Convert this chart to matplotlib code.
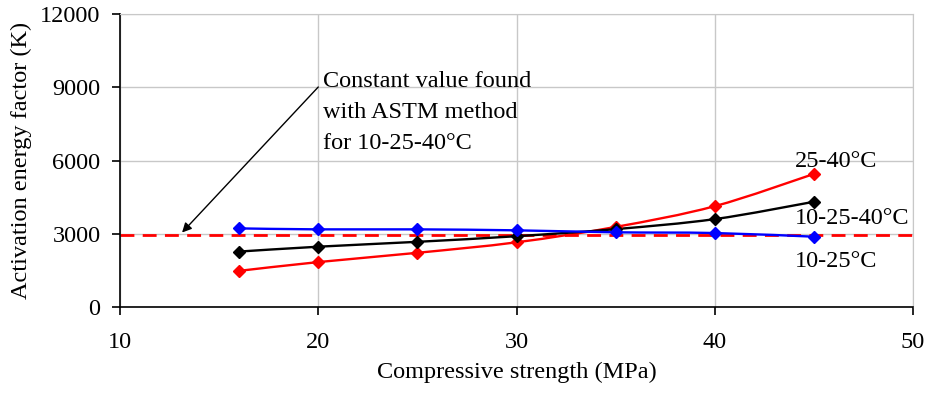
import numpy as np
import matplotlib
matplotlib.use("Agg")
import matplotlib.pyplot as plt
from matplotlib.path import Path
from matplotlib.patches import PathPatch

plt.rcParams['font.family'] = ['Liberation Serif', 'DejaVu Serif']

# data
strength = [16, 20, 25, 30, 35, 40, 45]
k_25_40 = [1480, 1840, 2220, 2650, 3280, 4130, 5450]
k_10_25_40 = [2270, 2470, 2670, 2900, 3190, 3600, 4310]
k_10_25 = [3220, 3180, 3180, 3140, 3060, 3030, 2880]
astm_x = [10, 50]
astm_k = [2950, 2950]

series = [
    (k_25_40, 'red', '25-40°C', 5950),
    (k_10_25_40, 'black', '10-25-40°C', 3620),
    (k_10_25, 'blue', '10-25°C', 1860),
]


def smooth_path(x, y):
    # catmull-rom style smoothing like the spreadsheet's smoothed lines
    pts = np.column_stack([x, y]).astype(float)
    verts = [pts[0]]
    codes = [Path.MOVETO]
    n = len(pts)
    for i in range(n - 1):
        p0 = pts[max(i - 1, 0)]
        p1 = pts[i]
        p2 = pts[i + 1]
        p3 = pts[min(i + 2, n - 1)]
        c1 = p1 + (p2 - p0) / 6.0
        c2 = p2 - (p3 - p1) / 6.0
        verts += [c1, c2, p2]
        codes += [Path.CURVE4] * 3
    return Path(verts, codes)


fs = 17.5
fig = plt.figure(figsize=(9.31, 3.93), dpi=100)
ax = fig.add_axes([0.1289, 0.2188, 0.8518, 0.7456])

ax.plot(astm_x, astm_k, color='red', lw=2.0, dashes=(5, 3), zorder=2)

for vals, col, lab, ly in series:
    patch = PathPatch(smooth_path(strength, vals), facecolor='none',
                      edgecolor=col, lw=1.7, zorder=3)
    ax.add_patch(patch)
    ax.plot(strength, vals, ls='none', marker='D', markersize=6.2,
            color=col, zorder=4)
    ax.text(44.05, ly, lab, fontsize=fs, va='center', ha='left')

ax.annotate('', xy=(13.13, 3050), xytext=(20.0, 9010),
            arrowprops=dict(arrowstyle='-|>', color='black', lw=1.0,
                            mutation_scale=14, shrinkA=0, shrinkB=0))
ax.text(20.24, 9680, 'Constant value found\nwith ASTM method\nfor 10-25-40°C',
        fontsize=fs, va='top', ha='left', linespacing=1.63)

ax.set_xlim(10, 50)
ax.set_ylim(0, 12000)
ax.set_xticks([10, 20, 30, 40, 50])
ax.set_yticks([0, 3000, 6000, 9000, 12000])
ax.grid(True, color='#c8c8c8', lw=1.0)
ax.set_axisbelow(True)
for s in ['top', 'right']:
    ax.spines[s].set_color('#c8c8c8')
for s in ['left', 'bottom']:
    ax.spines[s].set_linewidth(1.2)
ax.tick_params(direction='out', length=6, width=1.2, labelsize=fs)
ax.tick_params(axis='x', pad=12)
ax.tick_params(axis='y', pad=8)

ax.set_xlabel('Compressive strength (MPa)', fontsize=fs, labelpad=6)
ax.set_ylabel('Activation energy factor (K)', fontsize=fs, labelpad=6)

fig.savefig('out.png', dpi=100)
